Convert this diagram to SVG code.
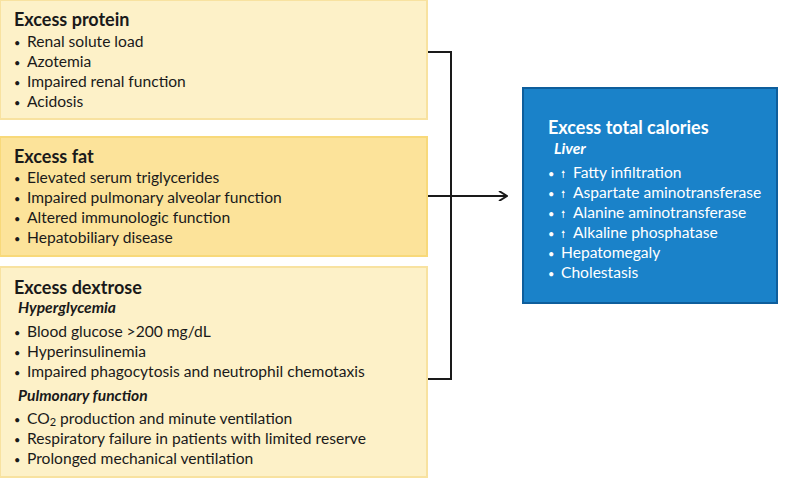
<svg xmlns="http://www.w3.org/2000/svg" width="800" height="479" viewBox="0 0 800 479">
<style>
.lt{fill:#fdf1c8;stroke:#f8e2a0;stroke-width:2}
.dk{fill:#fce39a;stroke:#f8d97a;stroke-width:2}
text{font-family:"Lato","Liberation Sans",sans-serif;font-size:15.6px;fill:#1a1a1a}
.h{font-weight:bold;font-size:18px}
.s{font-weight:bold;font-style:italic;font-size:15.6px}
.w{fill:#fff}
.b{font-size:11px}
.c{fill:none;stroke:#1a1a1a;stroke-width:2}
</style>
<defs><marker id="a" markerWidth="10" markerHeight="10" refX="9" refY="5" orient="auto" markerUnits="userSpaceOnUse"><path d="M1,0 L9,5 L1,10" fill="none" stroke="#1a1a1a" stroke-width="2"/></marker></defs>
<rect width="800" height="479" fill="#fff"/>
<g id="connectors">
<path class="c" d="M428,52 H451 V379 H428"/>
<path class="c" d="M428,196 H507" marker-end="url(#a)"/>
</g>
<g id="protein">
<rect class="lt" x="0" y="0" width="427" height="119"/>
<text class="h" x="14" y="26">Excess protein</text>
<text x="14" y="47"><tspan class="b">•</tspan><tspan x="27">Renal solute load</tspan></text>
<text x="14" y="67"><tspan class="b">•</tspan><tspan x="27">Azotemia</tspan></text>
<text x="14" y="87"><tspan class="b">•</tspan><tspan x="27">Impaired renal function</tspan></text>
<text x="14" y="107"><tspan class="b">•</tspan><tspan x="27">Acidosis</tspan></text>
</g>
<g id="fat">
<rect class="dk" x="0" y="137" width="427" height="119"/>
<text class="h" x="14" y="163">Excess fat</text>
<text x="14" y="183"><tspan class="b">•</tspan><tspan x="27">Elevated serum triglycerides</tspan></text>
<text x="14" y="203"><tspan class="b">•</tspan><tspan x="27">Impaired pulmonary alveolar function</tspan></text>
<text x="14" y="223"><tspan class="b">•</tspan><tspan x="27">Altered immunologic function</tspan></text>
<text x="14" y="243"><tspan class="b">•</tspan><tspan x="27">Hepatobiliary disease</tspan></text>
</g>
<g id="dextrose">
<rect class="lt" x="0" y="267" width="427" height="210"/>
<text class="h" x="14" y="294">Excess dextrose</text>
<text class="s" x="18" y="313">Hyperglycemia</text>
<text x="14" y="337"><tspan class="b">•</tspan><tspan x="27">Blood glucose &gt;200 mg/dL</tspan></text>
<text x="14" y="357"><tspan class="b">•</tspan><tspan x="27">Hyperinsulinemia</tspan></text>
<text x="14" y="377"><tspan class="b">•</tspan><tspan x="27">Impaired phagocytosis and neutrophil chemotaxis</tspan></text>
<text class="s" x="18" y="401">Pulmonary function</text>
<text x="14" y="424"><tspan class="b">•</tspan><tspan x="27">CO</tspan><tspan font-size="11" dy="2">2</tspan><tspan dy="-2"> production and minute ventilation</tspan></text>
<text x="14" y="444"><tspan class="b">•</tspan><tspan x="27">Respiratory failure in patients with limited reserve</tspan></text>
<text x="14" y="464"><tspan class="b">•</tspan><tspan x="27">Prolonged mechanical ventilation</tspan></text>
</g>
<g id="calories">
<rect x="523" y="88" width="254" height="215" fill="#1a82c9" stroke="#0e5e9c" stroke-width="2"/>
<text class="h w" x="548" y="134">Excess total calories</text>
<text class="s w" x="554" y="154">Liver</text>
<text class="w" x="548" y="178"><tspan class="b">•</tspan><tspan x="561" font-size="10">🠕</tspan><tspan x="573">Fatty infiltration</tspan></text>
<text class="w" x="548" y="198"><tspan class="b">•</tspan><tspan x="561" font-size="10">🠕</tspan><tspan x="573">Aspartate aminotransferase</tspan></text>
<text class="w" x="548" y="218"><tspan class="b">•</tspan><tspan x="561" font-size="10">🠕</tspan><tspan x="573">Alanine aminotransferase</tspan></text>
<text class="w" x="548" y="238"><tspan class="b">•</tspan><tspan x="561" font-size="10">🠕</tspan><tspan x="573">Alkaline phosphatase</tspan></text>
<text class="w" x="548" y="258"><tspan class="b">•</tspan><tspan x="561">Hepatomegaly</tspan></text>
<text class="w" x="548" y="278"><tspan class="b">•</tspan><tspan x="561">Cholestasis</tspan></text>
</g>
</svg>
